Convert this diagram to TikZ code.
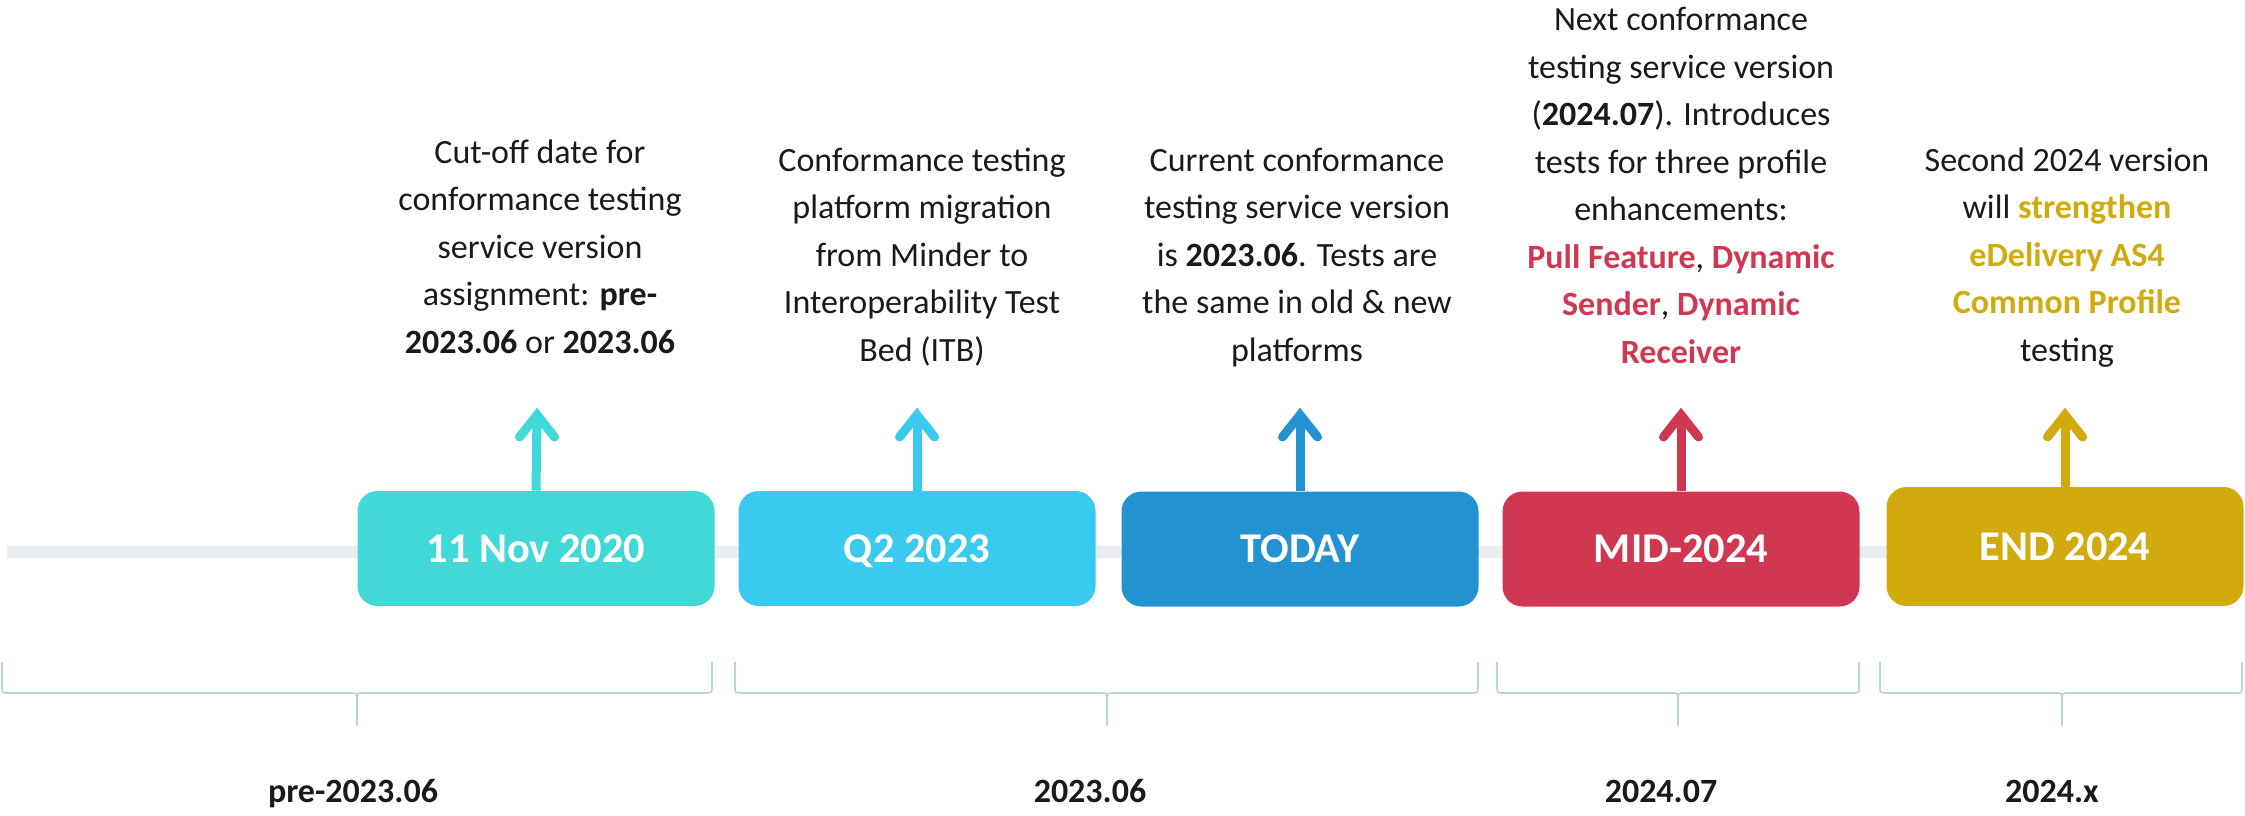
\documentclass[tikz,border=0pt]{standalone}
\usepackage{fontspec}
\setmainfont{Carlito}
\usetikzlibrary{calc}
\definecolor{cA}{HTML}{40D9D7}
\definecolor{cB}{HTML}{3AC9EF}
\definecolor{cC}{HTML}{2392D0}
\definecolor{cD}{HTML}{D03851}
\definecolor{cE}{HTML}{D1AA0E}
\definecolor{tlgray}{HTML}{E9EDF0}
\definecolor{brc}{HTML}{B2D8CC}
\definecolor{ink}{HTML}{1A1A1A}
\newcommand{\hlr}[1]{\textbf{\color{cD}#1}}
\newcommand{\hlg}[1]{\textbf{\color{cE}#1}}
\newcommand{\mybrace}[3]{%
 \draw[bracestyle] (#1,662) -- (#1,686) .. controls (#1,693) .. (#1+7,693) -- (#2-7,693) .. controls (#2,693) .. (#2,700) -- (#2,726);
 \draw[bracestyle] (#2,700) .. controls (#2,693) .. (#2+7,693) -- (#3-7,693) .. controls (#3,693) .. (#3,686) -- (#3,662);}
\begin{document}
\begin{tikzpicture}[x=0.5pt,y=-0.5pt,
  datebox/.style={rounded corners=10pt, minimum width=178.5pt, minimum height=57.5pt, inner sep=0pt, text=white, font=\fontsize{21.2}{24}\selectfont\bfseries, text height=13.6pt, text depth=0pt},
  desc/.style={anchor=south, align=center, inner sep=0pt, text=ink, font=\fontsize{17}{23.75}\selectfont},
  era/.style={anchor=base, inner sep=0pt, text=ink, font=\fontsize{17}{23.75}\selectfont\bfseries},
  shaft/.style={line width=4.5pt},
  barb/.style={line width=4.5pt, line cap=round, line join=miter},
  bracestyle/.style={draw=brc, line width=0.8pt},
]
\useasboundingbox (0,0) rectangle (2245,815);
% timeline
\coordinate (lineL) at (7,552);
\coordinate (lineR) at (2236,552);
\draw[tlgray, line width=6pt] (lineL) -- (lineR);
% boxes
\node[datebox, fill=cA] (b1) at (536,548.5) {11 Nov 2020};
\node[datebox, fill=cB] (b2) at (917,548.5) {Q2 2023};
\node[datebox, fill=cC] (b3) at (1300,549) {TODAY};
\node[datebox, fill=cD] (b4) at (1681,549) {MID-2024};
\node[datebox, fill=cE, minimum height=59.5pt] (b5) at (2065,546.5) {END 2024};
% arrow tips
\coordinate (t1) at (537,415);
\coordinate (t2) at (917,415);
\coordinate (t3) at (1300,415);
\coordinate (t4) at (1681,415);
\coordinate (t5) at (2065,415);
\foreach \i/\c in {1/cA,2/cB,3/cC,4/cD,5/cE}{
  \draw[shaft, draw=\c] (b\i.north) -- (t\i);
  \draw[barb, draw=\c] ($(t\i)+(-17.5,22)$) -- (t\i) -- ($(t\i)+(17.5,22)$);
}
% descriptions
\node[desc] (d1) at (540,368) {Cut-off date for\\conformance testing\\service version\\assignment: \textbf{pre-}\\\textbf{2023.06} or \textbf{2023.06}\strut};
\node[desc] (d2) at (922,376) {Conformance testing\\platform migration\\from Minder to\\Interoperability Test\\Bed (ITB)\strut};
\node[desc] (d3) at (1297,376) {Current conformance\\testing service version\\is \textbf{2023.06}. Tests are\\the same in old \& new\\platforms\strut};
\node[desc] (d4) at (1681,378) {Next conformance\\testing service version\\(\textbf{2024.07}). Introduces\\tests for three profile\\enhancements:\\\hlr{Pull Feature}, \hlr{Dynamic}\\\hlr{Sender}, \hlr{Dynamic}\\\hlr{Receiver}\strut};
\node[desc] (d5) at (2067,376) {Second 2024 version\\will \hlg{strengthen}\\\hlg{eDelivery AS4}\\\hlg{Common Profile}\\testing\strut};
% braces
\mybrace{2}{357}{712}
\mybrace{735}{1107}{1478}
\mybrace{1497}{1678}{1859}
\mybrace{1880}{2062}{2242}
% era labels
\node[era] (e1) at (353,802) {pre-2023.06};
\node[era] (e2) at (1090,802) {2023.06};
\node[era] (e3) at (1661,802) {2024.07};
\node[era] (e4) at (2052,802) {2024.x};
\end{tikzpicture}
\end{document}
